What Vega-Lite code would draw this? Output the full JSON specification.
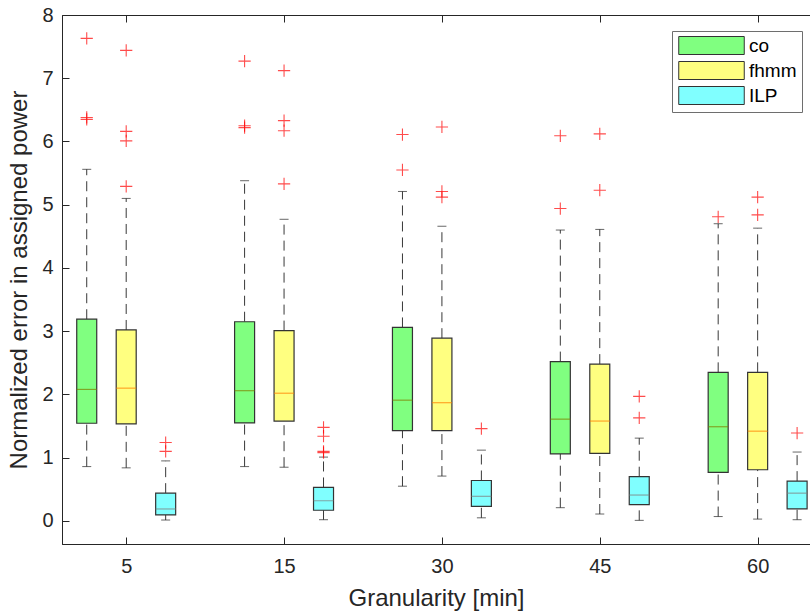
{
  "$schema": "https://vega.github.io/schema/vega-lite/v6.json",
  "autosize": {"type": "none"},
  "padding": {"left": 62, "top": 15, "right": 0, "bottom": 71},
  "width": 748,
  "height": 529,
  "background": "white",
  "config": {
    "font": "Liberation Sans",
    "view": {"stroke": "#262626", "strokeWidth": 1},
    "axis": {
      "labelFont": "Liberation Sans",
      "titleFont": "Liberation Sans",
      "labelColor": "#262626",
      "titleColor": "#262626",
      "domainColor": "#262626",
      "tickColor": "#262626",
      "grid": false,
      "labelFontSize": 20,
      "titleFontSize": 24,
      "titleFontWeight": "normal",
      "tickSize": -7
    }
  },
  "datasets": {
    "boxes": [
      {"group": "5", "method": "co", "pos": 1, "lower": 0.86, "q1": 1.545, "median": 2.08, "q3": 3.19, "upper": 5.56},
      {"group": "5", "method": "fhmm", "pos": 2, "lower": 0.84, "q1": 1.535, "median": 2.10, "q3": 3.02, "upper": 5.10},
      {"group": "5", "method": "ILP", "pos": 3, "lower": 0.015, "q1": 0.095, "median": 0.19, "q3": 0.44, "upper": 0.95},
      {"group": "15", "method": "co", "pos": 5, "lower": 0.86, "q1": 1.55, "median": 2.06, "q3": 3.15, "upper": 5.38},
      {"group": "15", "method": "fhmm", "pos": 6, "lower": 0.85, "q1": 1.58, "median": 2.02, "q3": 3.01, "upper": 4.77},
      {"group": "15", "method": "ILP", "pos": 7, "lower": 0.02, "q1": 0.17, "median": 0.32, "q3": 0.53, "upper": 1.01},
      {"group": "30", "method": "co", "pos": 9, "lower": 0.55, "q1": 1.43, "median": 1.91, "q3": 3.06, "upper": 5.21},
      {"group": "30", "method": "fhmm", "pos": 10, "lower": 0.71, "q1": 1.43, "median": 1.87, "q3": 2.89, "upper": 4.66},
      {"group": "30", "method": "ILP", "pos": 11, "lower": 0.05, "q1": 0.23, "median": 0.39, "q3": 0.64, "upper": 1.12},
      {"group": "45", "method": "co", "pos": 13, "lower": 0.21, "q1": 1.06, "median": 1.61, "q3": 2.52, "upper": 4.60},
      {"group": "45", "method": "fhmm", "pos": 14, "lower": 0.11, "q1": 1.07, "median": 1.58, "q3": 2.48, "upper": 4.61},
      {"group": "45", "method": "ILP", "pos": 15, "lower": 0.01, "q1": 0.26, "median": 0.41, "q3": 0.70, "upper": 1.31},
      {"group": "60", "method": "co", "pos": 17, "lower": 0.07, "q1": 0.77, "median": 1.49, "q3": 2.35, "upper": 4.70},
      {"group": "60", "method": "fhmm", "pos": 18, "lower": 0.03, "q1": 0.81, "median": 1.42, "q3": 2.35, "upper": 4.63},
      {"group": "60", "method": "ILP", "pos": 19, "lower": 0.02, "q1": 0.19, "median": 0.44, "q3": 0.63, "upper": 1.09}
    ],
    "outliers": [
      {"method": "co", "pos": 1, "value": 7.63},
      {"method": "co", "pos": 1, "value": 6.38},
      {"method": "co", "pos": 1, "value": 6.35},
      {"method": "fhmm", "pos": 2, "value": 7.44},
      {"method": "fhmm", "pos": 2, "value": 6.16},
      {"method": "fhmm", "pos": 2, "value": 6.01},
      {"method": "fhmm", "pos": 2, "value": 5.29},
      {"method": "ILP", "pos": 3, "value": 1.24},
      {"method": "ILP", "pos": 3, "value": 1.10},
      {"method": "co", "pos": 5, "value": 7.27},
      {"method": "co", "pos": 5, "value": 6.25},
      {"method": "co", "pos": 5, "value": 6.22},
      {"method": "fhmm", "pos": 6, "value": 7.12},
      {"method": "fhmm", "pos": 6, "value": 6.33},
      {"method": "fhmm", "pos": 6, "value": 6.17},
      {"method": "fhmm", "pos": 6, "value": 5.33},
      {"method": "ILP", "pos": 7, "value": 1.48},
      {"method": "ILP", "pos": 7, "value": 1.34},
      {"method": "ILP", "pos": 7, "value": 1.10},
      {"method": "ILP", "pos": 7, "value": 1.08},
      {"method": "co", "pos": 9, "value": 6.11},
      {"method": "co", "pos": 9, "value": 5.55},
      {"method": "fhmm", "pos": 10, "value": 6.23},
      {"method": "fhmm", "pos": 10, "value": 5.21},
      {"method": "fhmm", "pos": 10, "value": 5.12},
      {"method": "ILP", "pos": 11, "value": 1.46},
      {"method": "co", "pos": 13, "value": 6.09},
      {"method": "co", "pos": 13, "value": 4.94},
      {"method": "fhmm", "pos": 14, "value": 6.12},
      {"method": "fhmm", "pos": 14, "value": 5.23},
      {"method": "ILP", "pos": 15, "value": 1.97},
      {"method": "ILP", "pos": 15, "value": 1.63},
      {"method": "co", "pos": 17, "value": 4.81},
      {"method": "fhmm", "pos": 18, "value": 5.12},
      {"method": "fhmm", "pos": 18, "value": 4.84},
      {"method": "ILP", "pos": 19, "value": 1.39}
    ]
  },
  "resolve": {"axis": {"x": "independent"}},
  "layer": [
    {
      "data": {"name": "boxes"},
      "mark": {"type": "rule", "strokeDash": [10, 6], "color": "#383838", "strokeWidth": 1},
      "encoding": {
        "x": {"field": "pos", "type": "quantitative", "scale": {"domain": [0.5, 19.2], "nice": false, "zero": false},
              "axis": {"orient": "top", "values": [2, 6, 10, 14, 18], "labels": false, "title": null, "domain": false, "ticks": true, "tickSize": -7}},
        "y": {"field": "q3", "type": "quantitative"},
        "y2": {"field": "upper"}
      }
    },
    {
      "data": {"name": "boxes"},
      "mark": {"type": "rule", "strokeDash": [10, 6], "color": "#383838", "strokeWidth": 1},
      "encoding": {
        "x": {"field": "pos", "type": "quantitative", "axis": null},
        "y": {"field": "lower", "type": "quantitative"},
        "y2": {"field": "q1"}
      }
    },
    {
      "data": {"name": "boxes"},
      "mark": {"type": "tick", "orient": "horizontal", "size": 9, "thickness": 1, "color": "#262626"},
      "encoding": {
        "x": {"field": "pos", "type": "quantitative", "axis": null},
        "y": {"field": "upper", "type": "quantitative"}
      }
    },
    {
      "data": {"name": "boxes"},
      "mark": {"type": "tick", "orient": "horizontal", "size": 9, "thickness": 1, "color": "#262626"},
      "encoding": {
        "x": {"field": "pos", "type": "quantitative", "axis": null},
        "y": {"field": "lower", "type": "quantitative"}
      }
    },
    {
      "data": {"name": "boxes"},
      "mark": {"type": "bar", "width": 20, "stroke": "#333333", "strokeWidth": 1.2, "clip": true},
      "encoding": {
        "x": {"field": "pos", "type": "quantitative",
              "axis": {"values": [2, 6, 10, 14, 18], "title": "Granularity [min]", "labelPadding": 19, "titlePadding": 10,
                       "labelExpr": "datum.value == 2 ? '5' : datum.value == 6 ? '15' : datum.value == 10 ? '30' : datum.value == 14 ? '45' : '60'"}},
        "y": {"field": "q1", "type": "quantitative",
              "scale": {"domain": [-0.364, 8], "nice": false, "zero": false},
              "axis": {"values": [0, 1, 2, 3, 4, 5, 6, 7, 8], "format": "d", "title": "Normalized error in assigned power", "labelPadding": 16, "titlePadding": 10}},
        "y2": {"field": "q3"},
        "fill": {"field": "method", "type": "nominal",
                 "scale": {"domain": ["co", "fhmm", "ILP"], "range": ["#80ff80", "#ffff80", "#80ffff"]},
                 "legend": {"orient": "none", "legendX": 610, "legendY": 16, "title": null,
                            "symbolType": "M-3.64,-1L3.64,-1L3.64,1L-3.64,1Z", "symbolSize": 324,
                            "symbolOffset": 25,
                            "symbolStrokeColor": "#333333", "symbolStrokeWidth": 1, "symbolOpacity": 1,
                            "labelFont": "Liberation Sans", "labelFontSize": 19, "labelColor": "#000000",
                            "labelOffset": 28, "rowPadding": 2, "padding": 5,
                            "strokeColor": "#6e6e6e", "fillColor": "white"}}
      }
    },
    {
      "data": {"name": "boxes"},
      "mark": {"type": "tick", "orient": "horizontal", "size": 20, "thickness": 1.2, "clip": true},
      "encoding": {
        "x": {"field": "pos", "type": "quantitative", "axis": null},
        "y": {"field": "median", "type": "quantitative"},
        "color": {"field": "method", "type": "nominal",
                  "scale": {"domain": ["co", "fhmm", "ILP"], "range": ["#808000", "#ff8000", "#808080"]},
                  "legend": null}
      }
    },
    {
      "data": {"name": "outliers"},
      "mark": {"type": "point", "shape": "M-1,0L1,0M0,-1L0,1", "filled": false, "stroke": "#ff0000", "strokeWidth": 1.1, "size": 150, "clip": true},
      "encoding": {
        "x": {"field": "pos", "type": "quantitative", "axis": null},
        "y": {"field": "value", "type": "quantitative"}
      }
    }
  ]
}
